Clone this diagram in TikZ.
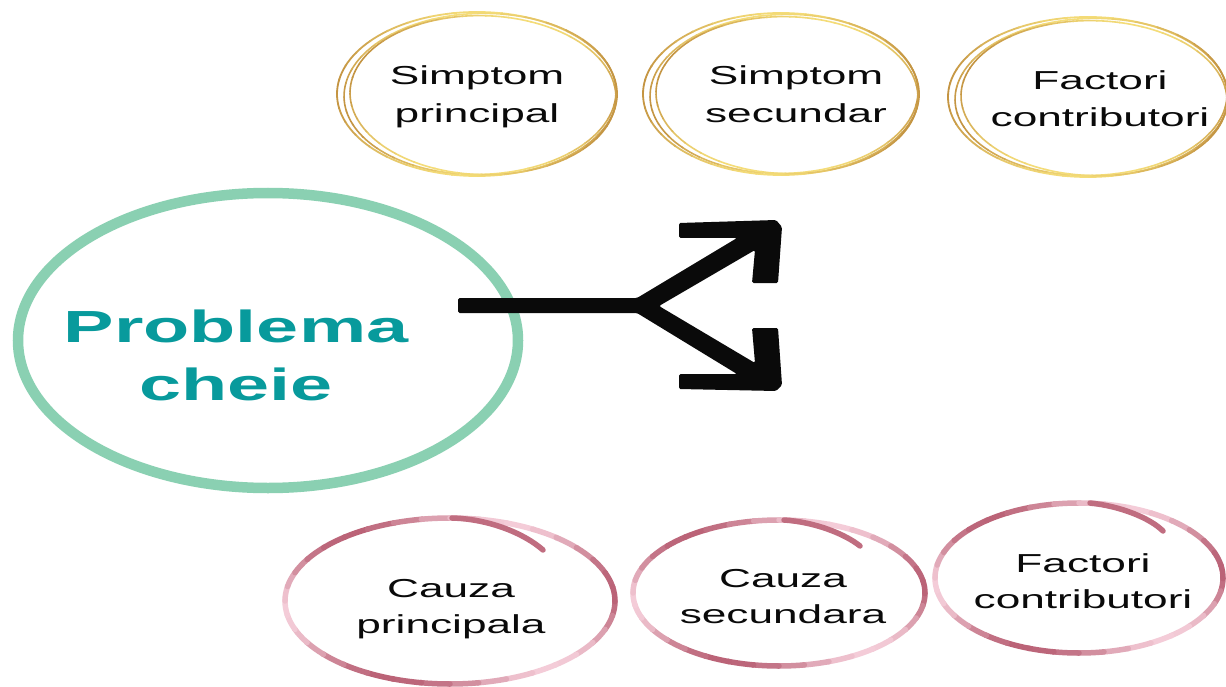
\documentclass[tikz,border=0pt]{standalone}
\usepackage{fontspec}
\setmainfont{Liberation Sans}
\newfontfamily\lblfont[FakeStretch=1.7]{Liberation Sans}
\newfontfamily\titlefont[FakeStretch=1.68]{Liberation Sans}
\definecolor{ringgreen}{RGB}{138,208,178}
\definecolor{titleteal}{RGB}{8,154,156}
\definecolor{golddark}{RGB}{196,148,66}
\definecolor{goldlight}{RGB}{244,220,120}
\definecolor{pinkdark}{RGB}{186,98,118}
\definecolor{pinklight}{RGB}{244,204,216}
\definecolor{inkblack}{RGB}{10,10,10}
% cx cy rx ry width colA colB mix-expression
\newcommand\gradring[8]{%
  \foreach \a in {0,10,...,350}{%
    \pgfmathsetmacro\m{int(#8)}%
    \draw[line width=#5, line cap=round, color=#6!\m!#7]
      (#1,#2) ++(\a:#3 and #4) arc[start angle=\a, delta angle=10.5, x radius=#3, y radius=#4];
  }}
\newcommand\goldring[4]{% cx cy rx ry
  \gradring{#1}{#2}{#3}{#4}{1.8}{golddark}{goldlight}{50+50*cos(2*\a)}
  \begin{scope}[rotate around={1.5:(#1,#2)}]
    \gradring{#1+3}{#2}{#3-4}{#4-1.5}{1.6}{golddark}{goldlight}{50+50*cos(2*\a+30)}
  \end{scope}
  \begin{scope}[rotate around={-1.5:(#1,#2)}]
    \gradring{#1+6}{#2+1}{#3-7}{#4-2.5}{1.6}{golddark}{goldlight}{50+50*cos(2*\a-30)}
  \end{scope}}
\tikzset{
  lbl/.style={font=\lblfont\fontsize{26}{30}\selectfont, text=inkblack, inner sep=0pt, anchor=base},
  ttl/.style={font=\titlefont\bfseries\fontsize{45}{50}\selectfont, text=titleteal, inner sep=0pt, anchor=base},
  tail/.style={line width=5.5, line cap=round, color=pinkdark!90!pinklight},
}
\begin{document}
\begin{tikzpicture}[x=1pt,y=-1pt]
\fill[white] (0,0) rectangle (1226,687);
\useasboundingbox (0,0) rectangle (1226,687);

% main green ring
\coordinate (mainc) at (268,340.5);
\draw[ringgreen, line width=10.5] (mainc) ellipse [x radius=250, y radius=147.5];
\node[ttl] (t1) at (236,342) {Problema};
\node[ttl] (t2) at (236,400) {cheie};

% forked arrow
\fill[inkblack, rounded corners=1.5pt]
  (458,298) -- (637,298) -- (737,238) -- (679,238) -- (679,223) -- (776,220)
  -- (782,227) -- (778,283) -- (752,283) -- (755,250) -- (659,306)
  -- (755,363) -- (752,328) -- (778,328) -- (782,385) -- (776,391)
  -- (679,389) -- (679,374) -- (737,374) -- (637,313) -- (458,313) -- cycle;

% gold rings (top)
\goldring{477}{94}{140}{82}
\goldring{781}{94}{138}{81}
\goldring{1088}{97}{140}{80}

\node[lbl] (s1a) at (477,85) {Simptom};
\node[lbl] (s1b) at (477,123) {principal};
\node[lbl] (s2a) at (796,85) {Simptom};
\node[lbl] (s2b) at (796,123) {secundar};
\node[lbl] (f1a) at (1100,90) {Factori};
\node[lbl] (f1b) at (1100,127) {contributori};

% pink rings (bottom)
\gradring{450}{601}{165}{83}{5.5}{pinkdark}{pinklight}{50+50*cos(3*\a+40)}
\draw[tail] (452,518) .. controls (490,519) and (525,534) .. (543,550);
\gradring{779}{593}{146}{73}{5.5}{pinkdark}{pinklight}{50+50*cos(3*\a+40)}
\draw[tail] (784,520) .. controls (815,522) and (845,534) .. (860,546);
\gradring{1079}{578}{144}{75}{5.5}{pinkdark}{pinklight}{50+50*cos(3*\a+40)}
\draw[tail] (1090,503) .. controls (1120,506) and (1150,518) .. (1163,531);

\node[lbl] (c1a) at (451,597) {Cauza};
\node[lbl] (c1b) at (451,633) {principala};
\node[lbl] (c2a) at (783,587) {Cauza};
\node[lbl] (c2b) at (783,623) {secundara};
\node[lbl] (f2a) at (1083,572) {Factori};
\node[lbl] (f2b) at (1083,608) {contributori};
\end{tikzpicture}
\end{document}
